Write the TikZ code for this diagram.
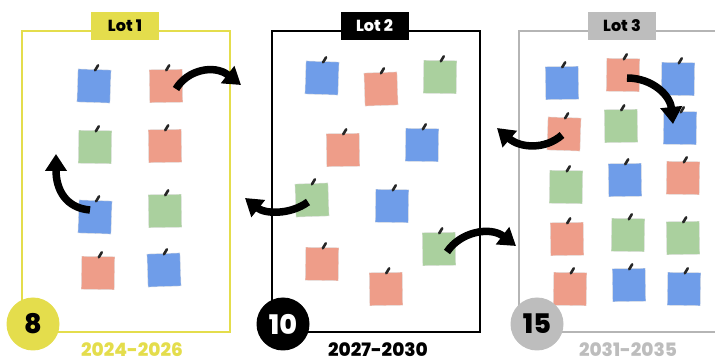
\documentclass[tikz,border=0pt]{standalone}
\usepackage{fontspec}
\IfFontExistsTF{Poppins ExtraBold}{\setmainfont{Poppins}[BoldFont={Poppins ExtraBold}]}{\setmainfont{Poppins}}
\usetikzlibrary{arrows.meta,calc}
\definecolor{lyellow}{HTML}{E4DD4C}
\definecolor{lgray}{HTML}{BDBDBD}
\definecolor{fgray}{HTML}{B5B5B5}
\definecolor{nblue}{HTML}{6F9DE9}
\definecolor{nred}{HTML}{EE9D89}
\definecolor{ngreen}{HTML}{AAD09E}
\tikzset{
  note/.style={minimum size=33pt, inner sep=0pt, draw=black!12, line width=0.4pt, fill=#1},
  pinline/.style={line width=2.6pt, line cap=round, draw=black!85},
  frame/.style={line width=1.6pt, draw=#1},
  lotbox/.style={fill=#1, minimum width=68pt, minimum height=28pt, inner sep=0pt, font=\bfseries\fontsize{16}{16}\selectfont},
  numcirc/.style={circle, fill=#1, minimum size=53pt, inner sep=0pt, font=\bfseries\fontsize{27}{27}\selectfont},
  yearlbl/.style={font=\bfseries\fontsize{18.5}{18.5}\selectfont, anchor=base, inner sep=0pt, text=#1},
  bigarrow/.style={line width=7.5pt, -{Triangle[length=17pt,width=21pt]}, draw=black},
}
\newcommand{\stickynote}[5]{% name, x, y, rot, colour
  \node[note=#5, rotate=#4] (#1) at (#2,#3) {};
  \draw[pinline] ($(#1.north)+(3.5,-4)$) -- ($(#1.north)+(0.5,1)$);
}
\begin{document}
\begin{tikzpicture}[x=1pt,y=-1pt]
\useasboundingbox (0,0) rectangle (715,363);
\clip (0,0) rectangle (715,363);
% frames
\draw[frame=lyellow] (22,31) rectangle (230,332);
\draw[frame=black] (272,31) rectangle (480,332);
\draw[frame=fgray] (519,31) rectangle (730,332);
% title boxes
\node[lotbox=lyellow] (t1) at (125,26) {Lot 1};
\node[lotbox=black, text=white] (t2) at (374.5,26) {Lot 2};
\node[lotbox=lgray] (t3) at (622,26) {Lot 3};
% Lot 1 notes
\stickynote{a1}{94}{86}{-2}{nblue}
\stickynote{a2}{166}{86}{1}{nred}
\stickynote{a3}{95}{147}{-1}{ngreen}
\stickynote{a4}{165}{146}{1}{nred}
\stickynote{a5}{95}{217}{-2}{nblue}
\stickynote{a6}{165}{211}{1}{ngreen}
\stickynote{a7}{98}{273}{-1}{nred}
\stickynote{a8}{164}{270}{2}{nblue}
% Lot 2 notes
\stickynote{b1}{322}{78}{-2}{nblue}
\stickynote{b2}{381}{89}{2}{nred}
\stickynote{b3}{440}{77}{-1}{ngreen}
\stickynote{b4}{343}{150}{1}{nred}
\stickynote{b5}{422}{145}{-1}{nblue}
\stickynote{b6}{312}{200}{2}{ngreen}
\stickynote{b7}{392}{206}{-1}{nblue}
\stickynote{b8}{439}{249}{1}{ngreen}
\stickynote{b9}{322}{264}{-1}{nred}
\stickynote{b10}{386}{289}{1}{nred}
% Lot 3 notes
\stickynote{c1}{562}{83}{1}{nblue}
\stickynote{c2}{623}{75}{-1}{nred}
\stickynote{c3}{678}{79}{-1}{nblue}
\stickynote{c4}{564}{134}{-2}{nred}
\stickynote{c5}{621}{126}{1}{ngreen}
\stickynote{c6}{680}{128}{-1}{nblue}
\stickynote{c7}{566}{187}{-1}{ngreen}
\stickynote{c8}{625}{180}{1}{nblue}
\stickynote{c9}{683}{178}{-1}{nred}
\stickynote{c10}{567}{239}{1}{nred}
\stickynote{c11}{628}{235}{-1}{ngreen}
\stickynote{c12}{683}{238}{1}{ngreen}
\stickynote{c13}{570}{289}{-1}{nred}
\stickynote{c14}{629}{285}{1}{nblue}
\stickynote{c15}{684}{289}{-1}{nblue}
% arrow end points
\coordinate (e1) at (241,85);
\coordinate (e2) at (56,154);
\coordinate (e3) at (245,198);
\coordinate (e4) at (516,246);
\coordinate (e5) at (673,124);
\coordinate (e6) at (497,128);
% arrows
\draw[bigarrow] ($(a2.center)+(10,3)$) .. controls (187,70) and (214,64) .. (e1);
\draw[bigarrow] ($(a5.center)+(-5,-7)$) .. controls (66,208) and (56,190) .. (e2);
\draw[bigarrow] ($(b6.center)+(-4,2)$) .. controls (290,215) and (265,214) .. (e3);
\draw[bigarrow] ($(b8.center)+(8,3)$) .. controls (460,232) and (490,226) .. (e4);
\draw[bigarrow] ($(c2.center)+(4,3)$) .. controls (652,78) and (670,95) .. (e5);
\draw[bigarrow] ($(c4.center)+(-2,1)$) .. controls (545,150) and (520,148) .. (e6);
% number circles
\node[numcirc=lyellow] (k1) at (33,324) {8};
\node[numcirc=black, text=white] (k2) at (283,324) {10};
\node[numcirc=lgray] (k3) at (537,324) {15};
% years
\node[yearlbl=lyellow] (y1) at (132,356) {2024-2026};
\node[yearlbl=black] (y2) at (378,356) {2027-2030};
\node[yearlbl=lgray] (y3) at (628,356) {2031-2035};
\end{tikzpicture}
\end{document}
